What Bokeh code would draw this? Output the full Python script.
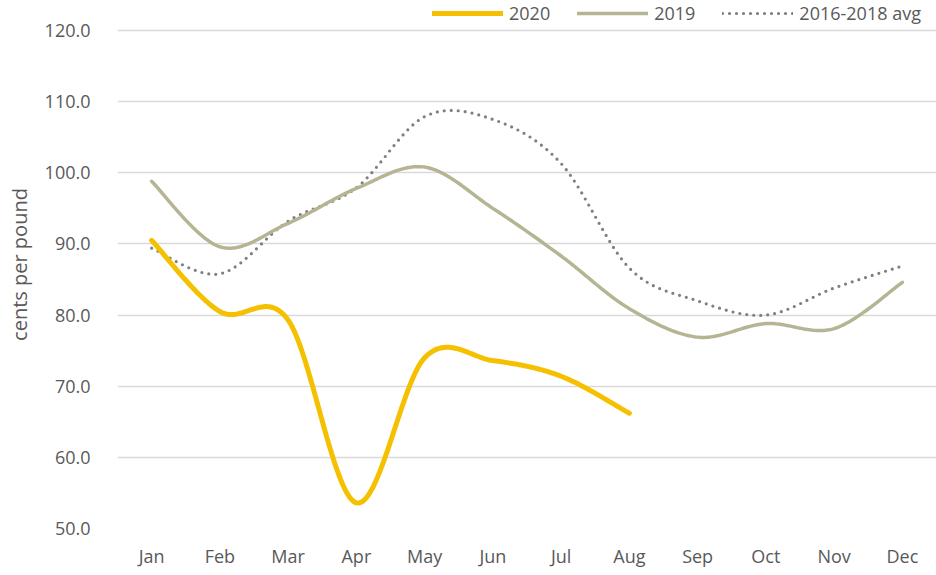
import numpy as np
from bokeh.plotting import figure
from bokeh.models import Legend, LegendItem, FixedTicker, PrintfTickFormatter, Range1d
from bokeh.embed import file_html
from bokeh.resources import INLINE

months = ["Jan", "Feb", "Mar", "Apr", "May", "Jun", "Jul", "Aug", "Sep", "Oct", "Nov", "Dec"]
y2020 = [90.5, 80.5, 79.3, 53.6, 74.0, 73.6, 71.4, 66.2]
y2019 = [98.8, 89.6, 92.9, 97.8, 100.8, 95.0, 88.3, 80.9, 76.9, 78.8, 78.1, 84.6]
y_avg = [89.4, 85.8, 93.2, 97.9, 107.9, 107.5, 101.3, 86.6, 82.0, 80.0, 83.8, 86.9]
y_ticks = [50, 60, 70, 80, 90, 100, 110, 120]

FONT = "Open Sans"
TXT = "#595959"

# layout: plotting area 50..120 spans 498 px; a 30 px strip above it holds the legend
H, TOP_STRIP, BOTTOM = 575, 30, 47
px_per_unit = (H - TOP_STRIP - BOTTOM) / (120 - 50)
y_end = 120 + TOP_STRIP / px_per_unit


def smooth(ys, n=40):
    """Catmull-Rom style cubic Bezier smoothing (like spreadsheet smoothed lines)."""
    xs = np.arange(len(ys), dtype=float)
    ys = np.asarray(ys, dtype=float)
    P = np.column_stack([xs, ys])
    out = []
    for i in range(len(P) - 1):
        p0 = P[i - 1] if i > 0 else P[i]
        p1 = P[i]
        p2 = P[i + 1]
        p3 = P[i + 2] if i + 2 < len(P) else P[i + 1]
        c1 = p1 + (p2 - p0) / 6.0
        c2 = p2 - (p3 - p1) / 6.0
        t = np.linspace(0, 1, n)[:, None]
        seg = ((1 - t) ** 3) * p1 + 3 * ((1 - t) ** 2) * t * c1 + 3 * (1 - t) * t ** 2 * c2 + t ** 3 * p2
        out.append(seg if i == 0 else seg[1:])
    arr = np.vstack(out)
    return arr[:, 0], arr[:, 1]


p = figure(width=936, height=H, output_backend="svg", toolbar_location=None,
           x_range=Range1d(-0.5, 11.5), y_range=Range1d(50, y_end),
           min_border_left=117, min_border_right=0, min_border_top=0, min_border_bottom=BOTTOM)
p.outline_line_color = None
p.background_fill_color = "white"

# axes
p.xaxis.ticker = FixedTicker(ticks=list(range(len(months))))
p.xaxis.major_label_overrides = {i: m for i, m in enumerate(months)}
p.yaxis.ticker = FixedTicker(ticks=y_ticks)
p.yaxis.formatter = PrintfTickFormatter(format="%.1f")
for ax in (p.xaxis, p.yaxis):
    ax.axis_line_color = None
    ax.major_tick_line_color = None
    ax.minor_tick_line_color = None
    ax.major_label_text_font = FONT
    ax.major_label_text_font_size = "18px"
    ax.major_label_text_color = TXT
p.xaxis.major_label_standoff = 9
p.yaxis.major_label_standoff = 21
p.yaxis.axis_label = "cents per pound"
p.yaxis.axis_label_text_font = FONT
p.yaxis.axis_label_text_font_size = "20px"
p.yaxis.axis_label_text_font_style = "normal"
p.yaxis.axis_label_text_color = TXT
p.yaxis.axis_label_standoff = 9

p.xgrid.grid_line_color = None
p.ygrid.ticker = FixedTicker(ticks=y_ticks)
p.ygrid.grid_line_color = "#D9D9D9"
p.ygrid.grid_line_width = 1.5

xa, ya = smooth(y_avg)
x19, y19 = smooth(y2019)
x20, y20 = smooth(y2020)

r_avg = p.line(xa, ya, line_color="#7F7F7F", line_width=3.2, line_dash="0 7", line_cap="round")
r19 = p.line(x19, y19, line_color="#B5B594", line_width=3.5, line_cap="round")
r20 = p.line(x20, y20, line_color="#F5C000", line_width=5, line_cap="round")

legend = Legend(items=[LegendItem(label="2020", renderers=[r20]),
                       LegendItem(label="2019", renderers=[r19]),
                       LegendItem(label="2016-2018 avg", renderers=[r_avg])],
                location=(315, 503), orientation="horizontal")
legend.glyph_width = 71
legend.glyph_height = 20
legend.label_height = 20
legend.label_standoff = 6
legend.spacing = 27
legend.padding = 0
legend.margin = 0
legend.border_line_color = None
legend.background_fill_alpha = 0
legend.label_text_font = FONT
legend.label_text_font_size = "18px"
legend.label_text_color = TXT
p.add_layout(legend)

open("out.html", "w").write(file_html(p, INLINE))
